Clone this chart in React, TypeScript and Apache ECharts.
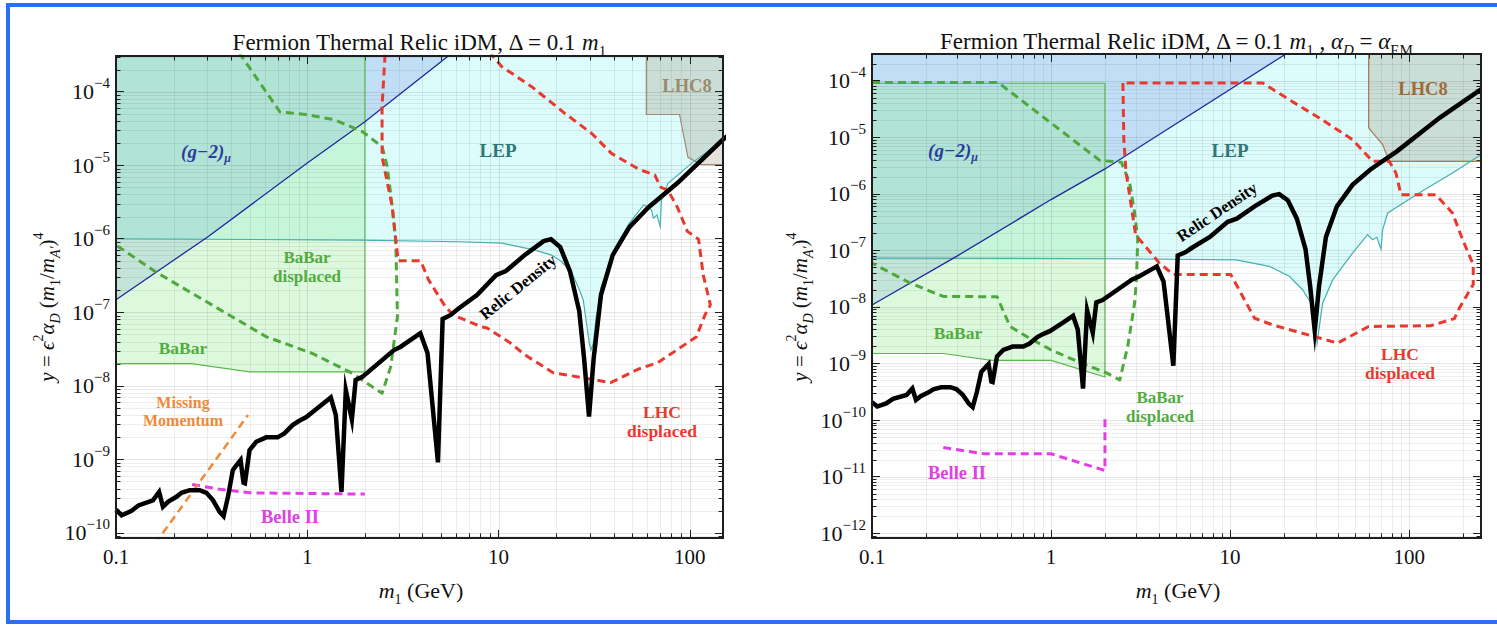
import React, { useEffect, useRef } from "react";
import * as echarts from "echarts";

type Pt = [number, number];

const SERIF = "'Liberation Serif', 'Times New Roman', 'DejaVu Serif', serif";

// ---------- axes ----------
const xTickLabels = ["0.1", "1", "10", "100"];
const L_X_MIN = 0.1, L_X_MAX = 149, L_Y_MIN = 8.5e-11, L_Y_MAX = 3.06e-4;
const R_X_MIN = 0.1, R_X_MAX = 252, R_Y_MIN = 8.2e-13, R_Y_MAX = 2.96e-4;

// ---------- shared relic density curve ----------
const relicDensity: Pt[] = [
  [0.1, 2.07e-10], [0.107, 1.73e-10], [0.12, 1.97e-10], [0.131, 2.36e-10], [0.156, 2.77e-10],
  [0.168, 3.6e-10], [0.176, 2.26e-10], [0.187, 2.64e-10], [0.207, 3.09e-10], [0.22, 3.5e-10],
  [0.243, 3.8e-10], [0.274, 3.8e-10], [0.297, 3.5e-10], [0.321, 2.79e-10], [0.348, 1.93e-10],
  [0.365, 1.69e-10], [0.385, 3.09e-10], [0.408, 7.13e-10], [0.434, 8.79e-10], [0.448, 9.75e-10],
  [0.464, 4.79e-10], [0.472, 4.7e-10], [0.499, 1.33e-9], [0.541, 1.73e-9], [0.61, 1.99e-9],
  [0.7, 1.99e-9], [0.759, 2.25e-9], [0.838, 2.92e-9], [0.908, 3.34e-9], [0.984, 3.72e-9],
  [1.155, 5.18e-9], [1.327, 6.95e-9], [1.41, 3.99e-9], [1.509, 3.6e-10], [1.59, 8.7e-9],
  [1.71, 3.49e-9], [1.79, 1.2e-8], [1.94, 1.32e-8], [2.84, 3.06e-8], [3.08, 3.4e-8],
  [3.9, 5.2e-8], [4.25, 2.8e-8], [4.82, 9.1e-10], [5.1, 8.1e-8], [5.62, 9.2e-8],
  [6.13, 1.11e-7], [7.71, 1.72e-7], [9.7, 3.2e-7], [10.9, 3.63e-7], [13.7, 6.0e-7],
  [17.2, 9.27e-7], [18.8, 9.86e-7], [21, 7.69e-7], [23.6, 3.63e-7], [26.4, 1.04e-7],
  [28, 2.33e-8], [29.7, 3.8e-9], [31.4, 2.33e-8], [34.3, 1.72e-7], [39.5, 6.0e-7],
  [48.3, 1.44e-6], [60.8, 2.69e-6], [85.8, 5.68e-6], [148, 2.2e-5], [252, 7.0e-5],
];

// ---------- left panel (Delta = 0.1 m1) ----------
const lepLeft: Pt[] = [
  [0.1, 1.0e-6], [1.86, 9.6e-7], [6.2, 9.1e-7], [10.4, 8.7e-7], [15.5, 7.0e-7], [18.9, 6.0e-7],
  [21.4, 4.86e-7], [24.2, 3.39e-7], [26.5, 2.0e-7], [27.7, 1.47e-7], [29.8, 3.8e-8], [30.4, 3.06e-8],
  [31.3, 3.8e-8], [32.4, 8.7e-8], [33.6, 1.47e-7], [34.3, 2.2e-7], [40.8, 7.7e-7], [48.3, 1.63e-6],
  [57.5, 2.9e-6], [63, 2.45e-6], [64.4, 1.9e-6], [67.3, 2.1e-6], [70, 1.46e-6], [71, 3.36e-6],
  [76.9, 5.68e-6], [102, 1.06e-5], [149, 2.2e-5],
];
const gm2Left: Pt[] = [[0.1, 1.48e-7], [0.3, 1.05e-6], [1, 1.07e-5], [2, 3.9e-5], [5.46, 3.06e-4]];
const babarLeft: Pt[] = [[0.1, 2.0e-8], [0.248, 2.0e-8], [0.5, 1.55e-8], [2, 1.55e-8]];
const lhc8Left: Pt[] = [[59.2, 4.9e-5], [88.3, 4.9e-5], [97.7, 1.28e-5], [114.5, 1.02e-5], [149, 1.02e-5]];
const babarDisplacedLeft: Pt[] = [
  [0.44, 3.4e-4], [0.72, 5.3e-5], [0.98, 4.9e-5], [1.38, 4.17e-5], [1.94, 2.87e-5], [2.46, 1.79e-5],
  [2.62, 9.5e-6], [2.78, 2.72e-6], [2.9, 9.6e-7], [2.96, 8.7e-8], [2.73, 1.82e-8], [2.46, 7.9e-9],
  [1.72, 1.48e-8], [1.065, 2.75e-8], [0.61, 4.65e-8], [0.166, 3.38e-7], [0.1, 8.2e-7],
];
const lhcDisplacedLeft: Pt[] = [
  [2.55, 3.2e-4], [2.46, 6.25e-5], [2.46, 1.3e-5], [2.78, 2.72e-6], [2.9, 9.6e-7], [2.99, 5.02e-7],
  [3.91, 5.02e-7], [4.31, 2.74e-7], [5.27, 1.19e-7], [5.79, 9.18e-8], [8.17, 6.32e-8], [8.65, 6.17e-8],
  [11.5, 3.84e-8], [13.7, 2.64e-8], [19.3, 1.5e-8], [29.7, 1.25e-8], [38.4, 1.1e-8], [54.2, 1.7e-8],
  [68, 2.06e-8], [108, 4.62e-8], [120, 9.2e-8], [128, 1.26e-7], [117.5, 3.2e-7], [111, 9.86e-7],
  [97, 1.26e-6], [86, 2.69e-6], [76.7, 4.6e-6], [70.6, 5.0e-6], [65.5, 7.36e-6], [54.3, 8.77e-6],
  [38.9, 1.45e-5], [30.6, 2.72e-5], [22.2, 5.08e-5], [14.9, 1.17e-4], [10.4, 2.19e-4], [9.1, 3.3e-4],
];
const belle2Left: Pt[] = [[0.25, 4.55e-10], [0.35, 3.9e-10], [0.5, 3.5e-10], [2, 3.36e-10]];
const missingMomentumLeft: Pt[] = [[0.16, 7.1e-11], [0.49, 4.0e-9]];

// ---------- right panel (alpha_D = alpha_EM) ----------
const lepRight: Pt[] = [
  [0.1, 7.3e-8], [2.42, 7.1e-8], [10.8, 6.8e-8], [16.6, 5.2e-8], [21.4, 3.47e-8], [25.4, 2.01e-8],
  [28.3, 1.17e-8], [30.6, 2.29e-9], [32.9, 1.17e-8], [37.4, 3.0e-8], [48.3, 8.9e-8], [58.6, 1.89e-7],
  [62.5, 1.54e-7], [66, 1.7e-7], [69.7, 1.05e-7], [71.1, 2.3e-7], [75.9, 4.57e-7], [113.7, 1.03e-6],
  [174.6, 2.33e-6], [252, 4.9e-6],
];
const gm2Right: Pt[] = [[0.1, 1.08e-8], [0.3, 8.0e-8], [1, 7.9e-7], [2, 2.75e-6], [20.5, 2.96e-4]];
const babarRight: Pt[] = [
  [0.1, 1.5e-9], [0.25, 1.5e-9], [0.466, 1.13e-9], [1, 1.13e-9], [2, 5.75e-10], [2, 9.0e-5], [0.1, 9.0e-5],
];
const lhc8Right: Pt[] = [[59.4, 1.46e-5], [71.1, 7.4e-6], [77.5, 3.74e-6], [252, 3.74e-6]];
const babarDisplacedRight: Pt[] = [
  [0.1, 9.3e-5], [0.506, 9.3e-5], [1.87, 3.9e-6], [2.47, 3.6e-6], [2.75, 1.55e-6], [2.93, 4.6e-7],
  [3.05, 1.6e-7], [3.0, 3.15e-8], [2.93, 1.17e-8], [2.68, 2.0e-9], [2.42, 5.1e-10], [2.04, 6.8e-10],
  [1.39, 1.1e-9], [1.0, 1.74e-9], [0.73, 3.0e-9], [0.59, 4.5e-9], [0.5, 1.51e-8], [0.25, 1.53e-8],
  [0.163, 2.64e-8], [0.1, 5.97e-8],
];
const lhcDisplacedRight: Pt[] = [
  [2.52, 9.1e-5], [2.55, 9.1e-6], [2.62, 2.5e-6], [2.8, 6.3e-7], [2.97, 1.87e-7], [4.02, 6.0e-8],
  [4.83, 3.72e-8], [10.1, 3.72e-8], [13.7, 6.3e-9], [17.3, 4.8e-9], [23.4, 3.68e-9], [31.5, 2.82e-9],
  [39.8, 2.29e-9], [59.4, 4.5e-9], [131.5, 4.64e-9], [179, 6.2e-9], [190, 9.3e-9], [228, 2.5e-8],
  [228, 5.6e-8], [199, 1.54e-7], [174.6, 4.57e-7], [141, 9.6e-7], [90, 9.6e-7], [84.4, 2.33e-6],
  [77.5, 3.74e-6], [62.5, 3.74e-6], [48.3, 9.06e-6], [31.5, 2.19e-5], [21.4, 4.61e-5], [15.2, 9.1e-5],
  [2.52, 9.1e-5],
];
const belle2Right: Pt[] = [[0.25, 3.27e-11], [0.42, 2.53e-11], [1, 2.53e-11], [2, 1.28e-11], [2, 1.24e-10]];

// ---------- helpers ----------
function logGridValues(min: number, max: number): number[] {
  const out: number[] = [];
  for (let k = Math.floor(Math.log10(min)); k <= Math.ceil(Math.log10(max)); k++) {
    for (let m = 1; m <= 9; m++) {
      const v = m * Math.pow(10, k);
      if (v > min * 1.001 && v < max * 0.999) out.push(v);
    }
  }
  return out;
}
const isPow10 = (v: number) => Math.abs(Math.log10(v) - Math.round(Math.log10(v))) < 1e-4;

function yFormatter(v: number) {
  if (!isPow10(v)) return "";
  const e = Math.round(Math.log10(v));
  return `{b|10}{s|${e < 0 ? "\u2212" : ""}${Math.abs(e)}}`;
}
function xFormatter(v: number) {
  if (!isPow10(v)) return "";
  const e = Math.round(Math.log10(v));
  return xTickLabels[e + 1] ?? "";
}

const FRAME = "#1e1e1e";

function xAxesFor(grid: number, min: number, max: number) {
  const base = {
    type: "log", logBase: 10, gridIndex: grid, min, max, z: 10,
    axisLine: { show: true, lineStyle: { color: FRAME, width: 2 } },
    axisTick: { show: true, inside: true, length: 8, lineStyle: { color: FRAME, width: 1 } },
    splitLine: { show: false },
    minorTick: { show: false },
    minorSplitLine: { show: false },
  };
  return [
    { ...base, position: "bottom",
      axisLabel: { show: true, interval: 0, formatter: xFormatter, fontFamily: SERIF, fontSize: 21, color: "#111", margin: 8 } },
    { ...base, position: "top", axisLabel: { show: false } },
  ];
}
function yAxesFor(grid: number, min: number, max: number) {
  const base = {
    type: "log", logBase: 10, gridIndex: grid, min, max, z: 10,
    axisLine: { show: true, lineStyle: { color: FRAME, width: 2 } },
    axisTick: { show: true, inside: true, length: 8, lineStyle: { color: FRAME, width: 1 } },
    splitLine: { show: false },
    minorTick: { show: false },
    minorSplitLine: { show: false },
  };
  return [
    { ...base, position: "left",
      axisLabel: {
        show: true, interval: 0, formatter: yFormatter, margin: 6,
        rich: {
          b: { fontFamily: SERIF, fontSize: 22, color: "#111", lineHeight: 32 },
          s: { fontFamily: SERIF, fontSize: 15, color: "#111", lineHeight: 15, verticalAlign: "top" },
        },
      } },
    { ...base, position: "right", axisLabel: { show: false } },
  ];
}

function gridLines(ai: number, xMin: number, xMax: number, yMin: number, yMax: number) {
  const tick = 4.5;
  const vertical = {
    type: "custom", xAxisIndex: ai, yAxisIndex: ai, z: 3, silent: true,
    data: logGridValues(xMin, xMax).map((v) => [v, yMin]),
    renderItem: (params: any, api: any) => {
      const cs = params.coordSys;
      const v = api.value(0);
      const x = Math.round(api.coord([v, api.value(1)])[0]) + 0.5;
      const major = isPow10(v);
      const children: any[] = [
        { type: "line", shape: { x1: x, y1: cs.y, x2: x, y2: cs.y + cs.height },
          style: { stroke: major ? "rgba(0,0,0,0.10)" : "rgba(0,0,0,0.065)", lineWidth: 1 } },
      ];
      if (!major) {
        children.push({ type: "line", shape: { x1: x, y1: cs.y + cs.height, x2: x, y2: cs.y + cs.height - tick }, style: { stroke: FRAME, lineWidth: 1 } });
        children.push({ type: "line", shape: { x1: x, y1: cs.y, x2: x, y2: cs.y + tick }, style: { stroke: FRAME, lineWidth: 1 } });
      }
      return { type: "group", children };
    },
  };
  const horizontal = {
    type: "custom", xAxisIndex: ai, yAxisIndex: ai, z: 3, silent: true,
    data: logGridValues(yMin, yMax).map((v) => [xMin, v]),
    renderItem: (params: any, api: any) => {
      const cs = params.coordSys;
      const v = api.value(1);
      const y = Math.round(api.coord([api.value(0), v])[1]) + 0.5;
      const major = isPow10(v);
      const children: any[] = [
        { type: "line", shape: { x1: cs.x, y1: y, x2: cs.x + cs.width, y2: y },
          style: { stroke: major ? "rgba(0,0,0,0.10)" : "rgba(0,0,0,0.065)", lineWidth: 1 } },
      ];
      if (!major) {
        children.push({ type: "line", shape: { x1: cs.x, y1: y, x2: cs.x + tick, y2: y }, style: { stroke: FRAME, lineWidth: 1 } });
        children.push({ type: "line", shape: { x1: cs.x + cs.width, y1: y, x2: cs.x + cs.width - tick, y2: y }, style: { stroke: FRAME, lineWidth: 1 } });
      }
      return { type: "group", children };
    },
  };
  return [vertical, horizontal];
}

// filled (or outlined) region; if yTop given, the curve is closed up to the top of the plot
function region(ai: number, pts: Pt[], yTop: number | null, fill: string, stroke: string, lw: number, z: number) {
  return {
    type: "custom", xAxisIndex: ai, yAxisIndex: ai, z, silent: true, clip: true,
    data: pts,
    renderItem: (params: any, api: any) => {
      if (params.dataIndex !== 0) return { type: "group", children: [] };
      const poly = pts.map((p) => api.coord(p));
      if (yTop !== null) {
        poly.push(api.coord([pts[pts.length - 1][0], yTop]));
        poly.push(api.coord([pts[0][0], yTop]));
      }
      return { type: "polygon", shape: { points: poly }, style: { fill, stroke, lineWidth: lw } };
    },
  };
}

function curve(ai: number, data: Pt[], color: string, width: number, dashed: boolean, z: number) {
  return {
    type: "line", xAxisIndex: ai, yAxisIndex: ai, data, z, silent: true,
    showSymbol: false, symbol: "none", smooth: false, clip: true,
    lineStyle: { color, width, type: dashed ? [8, 5] : "solid", join: dashed ? "round" : "miter", miterLimit: 12 },
  };
}

const C_LEP_FILL = "rgba(155,244,244,0.35)";
const C_BABAR_FILL = "rgba(150,235,150,0.32)";
const C_GM2_FILL = "rgba(130,160,235,0.30)";
const C_LHC8_FILL = "rgba(130,105,75,0.20)";
const C_LEP = "#45b0ae";
const C_GM2 = "#1c2a9a";
const C_BABAR = "#5cb84e";
const C_BABARD = "#4ea83c";
const C_LHCD = "#e8392e";
const C_BELLE = "#e23ee6";
const C_MM = "#f08a35";

function panelSeries(ai: number, yMax: number, p: {
  lep: Pt[]; gm2: Pt[]; babar: Pt[]; babarClose: boolean; lhc8: Pt[]; lhc8Stroke: string;
  babarD: Pt[]; lhcD: Pt[]; belle: Pt[]; mm: Pt[] | null; xMin: number; xMax: number; yMin: number;
}) {
  const s: any[] = [
    region(ai, p.lep, yMax, C_LEP_FILL, "none", 0, 1),
    region(ai, p.gm2, yMax, C_GM2_FILL, "none", 0, 1),
    region(ai, p.babar, p.babarClose ? yMax : null, C_BABAR_FILL, "none", 0, 1),
    region(ai, p.lhc8, yMax, C_LHC8_FILL, "none", 0, 1),
    ...gridLines(ai, p.xMin, p.xMax, p.yMin, yMax),
    region(ai, p.babar, p.babarClose ? yMax : null, "none", C_BABAR, 1.2, 4),
    region(ai, p.lhc8, yMax, "none", p.lhc8Stroke, 1.2, 4),
    curve(ai, p.lep, C_LEP, 1.2, false, 4),
    curve(ai, p.gm2, C_GM2, 1.3, false, 4),
    curve(ai, p.babarD, C_BABARD, 3, true, 5),
    curve(ai, p.lhcD, C_LHCD, 3, true, 5),
    curve(ai, p.belle, C_BELLE, 3, true, 5),
  ];
  if (p.mm) s.push(curve(ai, p.mm, C_MM, 2.5, true, 5));
  s.push(curve(ai, relicDensity, "#000", 4.5, false, 6));
  return s;
}

// ---------- text ----------
const richBase = (size: number, sub: number, color: string) => ({
  n: { fontSize: size, fontFamily: SERIF, fill: color, color, lineHeight: size + 10 },
  i: { fontSize: size, fontFamily: SERIF, fontStyle: "italic", fill: color, color, lineHeight: size + 10 },
  sub: { fontSize: sub, fontFamily: SERIF, fill: color, color, lineHeight: sub, verticalAlign: "bottom" },
  subi: { fontSize: sub, fontFamily: SERIF, fontStyle: "italic", fill: color, color, lineHeight: sub, verticalAlign: "bottom" },
  sup: { fontSize: sub, fontFamily: SERIF, fill: color, color, lineHeight: sub, verticalAlign: "top" },
});

function txt(x: number, y: number, text: string, fill: string, size: number, opt: any = {}) {
  return {
    type: "text", x, y, z: 60, silent: true, rotation: opt.rotation || 0,
    style: {
      text, fill, fontSize: size, fontFamily: SERIF, fontWeight: opt.weight || "bold",
      fontStyle: opt.italic ? "italic" : "normal", align: "center", verticalAlign: "middle",
      lineHeight: opt.lh || size + 2, rich: opt.rich,
    },
  };
}

const gm2Rich = {
  a: { fontSize: 19, fontFamily: SERIF, fontWeight: "bold", fontStyle: "italic", fill: "#2b3d9c", lineHeight: 26 },
  m: { fontSize: 12, fontFamily: SERIF, fontWeight: "bold", fontStyle: "italic", fill: "#2b3d9c", lineHeight: 12, verticalAlign: "bottom" },
};

function buildOption() {
  const deg = Math.PI / 180;
  const titleL = "{n|Fermion Thermal Relic iDM, \u0394 = 0.1 }{i|m}{sub|1}";
  const titleR = "{n|Fermion Thermal Relic iDM, \u0394 = 0.1 }{i|m}{sub|1}{n| , }{i|\u03b1}{subi|D}{n| = }{i|\u03b1}{sub|EM}";
  const yName = "{i|y}{n| = }{i|\u03f5}{sup|2}{i|\u03b1}{subi|D}{n| (}{i|m}{sub|1}{n|/}{i|m}{subi|A\u2032}{n|)}{sup|4}";
  const xName = "{i|m}{sub|1}{n| (GeV)}";
  const richTitle = richBase(23, 15, "#111");
  const richX = richBase(22, 14, "#111");
  const richY = richBase(21, 14, "#111");

  return {
    animation: false,
    backgroundColor: "#ffffff",
    grid: [
      { left: 116, top: 56, width: 607, height: 482, containLabel: false, outerBoundsMode: "none", show: false },
      { left: 872, top: 54, width: 609, height: 484, containLabel: false, outerBoundsMode: "none", show: false },
    ],
    xAxis: [...xAxesFor(0, L_X_MIN, L_X_MAX), ...xAxesFor(1, R_X_MIN, R_X_MAX)],
    yAxis: [...yAxesFor(0, L_Y_MIN, L_Y_MAX), ...yAxesFor(1, R_Y_MIN, R_Y_MAX)],
    series: [
      ...panelSeries(0, L_Y_MAX, {
        lep: lepLeft, gm2: gm2Left, babar: babarLeft, babarClose: true, lhc8: lhc8Left, lhc8Stroke: "#a08a72",
        babarD: babarDisplacedLeft, lhcD: lhcDisplacedLeft, belle: belle2Left, mm: missingMomentumLeft,
        xMin: L_X_MIN, xMax: L_X_MAX, yMin: L_Y_MIN,
      }),
      ...panelSeries(2, R_Y_MAX, {
        lep: lepRight, gm2: gm2Right, babar: babarRight, babarClose: false, lhc8: lhc8Right, lhc8Stroke: "#b07a4a",
        babarD: babarDisplacedRight, lhcD: lhcDisplacedRight, belle: belle2Right, mm: null,
        xMin: R_X_MIN, xMax: R_X_MAX, yMin: R_Y_MIN,
      }),
    ],
    graphic: [
      { type: "rect", z: 100, silent: true, shape: { x: 8, y: 5, width: 1500, height: 617 },
        style: { fill: "none", stroke: "#2a6ff2", lineWidth: 4 } },
      // titles and axis names
      txt(419, 42, titleL, "#111", 23, { weight: "normal", rich: richTitle }),
      txt(1176, 41, titleR, "#111", 23, { weight: "normal", rich: richTitle }),
      txt(421, 590, xName, "#111", 22, { weight: "normal", rich: richX }),
      txt(1178, 590, xName, "#111", 22, { weight: "normal", rich: richX }),
      txt(47, 307, yName, "#111", 21, { weight: "normal", rich: richY, rotation: 90 * deg }),
      txt(800, 307, yName, "#111", 21, { weight: "normal", rich: richY, rotation: 90 * deg }),
      // left annotations
      txt(206, 151, "{a|(g\u22122)}{m|\u03bc}", "#2b3d9c", 19, { rich: gm2Rich }),
      txt(498, 150, "LEP", "#2f7676", 19),
      txt(687, 86, "LHC8", "#9b8b6b", 18.5),
      txt(307, 267, "BaBar\ndisplaced", "#52ac40", 17, { lh: 18.5 }),
      txt(183, 348, "BaBar", "#52ac40", 17.5),
      txt(183, 411, "Missing\nMomentum", "#ee8a3a", 16, { lh: 18 }),
      txt(290, 517, "Belle II", "#e23ee6", 18.5),
      txt(662, 421, "LHC\ndisplaced", "#e53b2e", 17.5, { lh: 19 }),
      txt(518, 287, "Relic Density", "#000", 16.5, { rotation: 39 * deg }),
      // right annotations
      txt(953, 150, "{a|(g\u22122)}{m|\u03bc}", "#2b3d9c", 19, { rich: gm2Rich }),
      txt(1230, 150, "LEP", "#2f7676", 19),
      txt(1423, 89, "LHC8", "#a06a38", 18.5),
      txt(958, 333, "BaBar", "#52ac40", 17.5),
      txt(1160, 407, "BaBar\ndisplaced", "#52ac40", 17, { lh: 18.5 }),
      txt(957, 473, "Belle II", "#e23ee6", 18.5),
      txt(1400, 363, "LHC\ndisplaced", "#e53b2e", 17.5, { lh: 19 }),
      txt(1217, 212, "Relic Density", "#000", 16.5, { rotation: 34 * deg }),
    ],
  };
}

export default function App() {
  const ref = useRef<HTMLDivElement>(null);
  useEffect(() => {
    if (!ref.current) return;
    const chart = echarts.init(ref.current, undefined, { renderer: "svg" });
    chart.setOption(buildOption() as any);
    return () => chart.dispose();
  }, []);
  return (
    <div
      ref={ref}
      style={{ position: "fixed", left: 0, top: 0, width: 1497, height: 625, background: "#fff" }}
    />
  );
}
